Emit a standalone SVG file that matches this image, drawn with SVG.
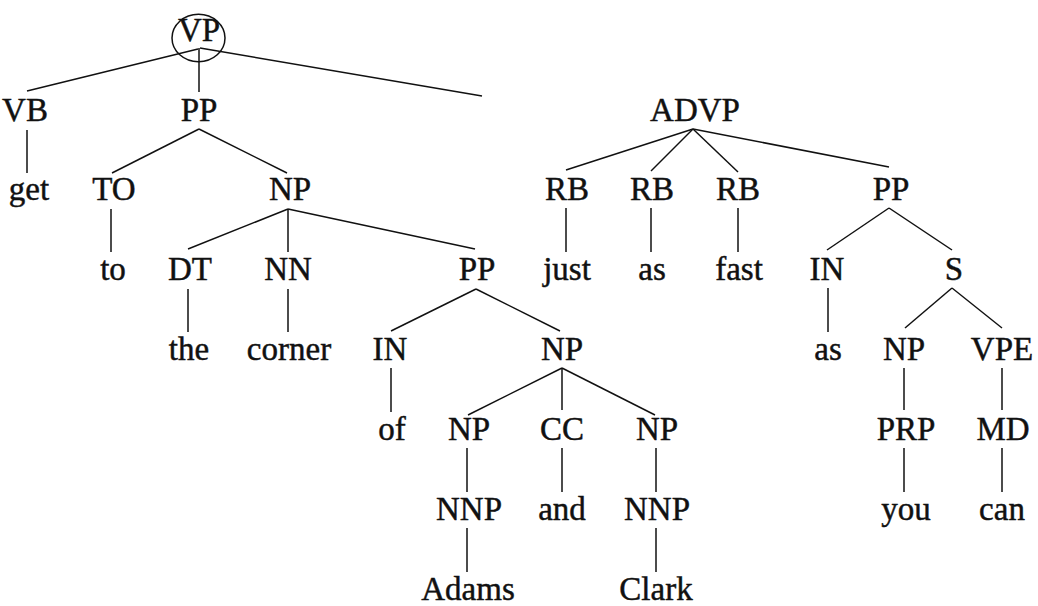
<svg xmlns="http://www.w3.org/2000/svg" width="1038" height="606" viewBox="0 0 1038 606">
<style>
text{font-family:"Liberation Serif","Times New Roman",serif;font-size:33px;fill:#111;stroke:#111;stroke-width:0.45;text-anchor:middle}
line{stroke:#111;stroke-width:1.5;fill:none}
.ring{stroke:#111;stroke-width:1.5;fill:none}
</style>
<rect width="1038" height="606" fill="#fff"/>
<g id="connectors">
<line x1="198" y1="49" x2="27" y2="91"/>
<line x1="199" y1="48" x2="199" y2="92"/>
<line x1="200" y1="48" x2="482" y2="96"/>
<line x1="27" y1="130" x2="27" y2="173"/>
<line x1="199" y1="129" x2="112" y2="173"/>
<line x1="199" y1="129" x2="287" y2="173"/>
<line x1="111" y1="209" x2="111" y2="252"/>
<line x1="288" y1="209" x2="188" y2="249"/>
<line x1="288" y1="209" x2="288" y2="252"/>
<line x1="288" y1="209" x2="475" y2="249"/>
<line x1="188" y1="289" x2="188" y2="332"/>
<line x1="288" y1="289" x2="288" y2="332"/>
<line x1="476" y1="289" x2="391" y2="331"/>
<line x1="476" y1="289" x2="560" y2="331"/>
<line x1="391" y1="368" x2="391" y2="412"/>
<line x1="562" y1="368" x2="468" y2="415"/>
<line x1="562" y1="368" x2="562" y2="410"/>
<line x1="562" y1="368" x2="655" y2="415"/>
<line x1="467" y1="448" x2="467" y2="492"/>
<line x1="562" y1="448" x2="562" y2="492"/>
<line x1="656" y1="448" x2="656" y2="492"/>
<line x1="467" y1="528" x2="467" y2="572"/>
<line x1="656" y1="528" x2="656" y2="572"/>
<line x1="693" y1="129" x2="566" y2="170"/>
<line x1="693" y1="129" x2="651" y2="171"/>
<line x1="693" y1="129" x2="738" y2="172"/>
<line x1="693" y1="129" x2="889" y2="167"/>
<line x1="566" y1="208" x2="566" y2="252"/>
<line x1="651" y1="208" x2="651" y2="252"/>
<line x1="738" y1="208" x2="738" y2="252"/>
<line x1="889" y1="208" x2="827" y2="250"/>
<line x1="889" y1="208" x2="952" y2="250"/>
<line x1="828" y1="288" x2="828" y2="332"/>
<line x1="952" y1="288" x2="905" y2="328"/>
<line x1="952" y1="288" x2="1002" y2="328"/>
<line x1="904" y1="368" x2="904" y2="410"/>
<line x1="1002" y1="368" x2="1002" y2="410"/>
<line x1="904" y1="448" x2="904" y2="492"/>
<line x1="1002" y1="448" x2="1002" y2="492"/>
</g>
<g id="n-vp"><ellipse class="ring" cx="198.5" cy="38" rx="26.5" ry="23.7"/><text x="199" y="41">VP</text></g>
<g id="n-vb"><text x="25" y="121">VB</text></g>
<g id="n-pp1"><text x="199" y="121">PP</text></g>
<g id="n-advp"><text x="695" y="121">ADVP</text></g>
<g id="n-get"><text x="29" y="200">get</text></g>
<g id="n-to1"><text x="114" y="200">TO</text></g>
<g id="n-np1"><text x="290" y="200">NP</text></g>
<g id="n-rb1"><text x="567" y="200">RB</text></g>
<g id="n-rb2"><text x="652" y="200">RB</text></g>
<g id="n-rb3"><text x="738" y="200">RB</text></g>
<g id="n-pp3"><text x="891" y="200">PP</text></g>
<g id="n-to"><text x="113" y="280">to</text></g>
<g id="n-dt"><text x="190" y="280">DT</text></g>
<g id="n-nn"><text x="288" y="280">NN</text></g>
<g id="n-pp2"><text x="477" y="280">PP</text></g>
<g id="n-just"><text x="567" y="280">just</text></g>
<g id="n-as1"><text x="652" y="280">as</text></g>
<g id="n-fast"><text x="739" y="280">fast</text></g>
<g id="n-in2"><text x="827" y="280">IN</text></g>
<g id="n-s"><text x="954" y="280">S</text></g>
<g id="n-the"><text x="189" y="360">the</text></g>
<g id="n-corner"><text x="289" y="360">corner</text></g>
<g id="n-in1"><text x="390" y="360">IN</text></g>
<g id="n-np2"><text x="562" y="360">NP</text></g>
<g id="n-as2"><text x="828" y="360">as</text></g>
<g id="n-np6"><text x="904" y="360">NP</text></g>
<g id="n-vpe"><text x="1002" y="360">VPE</text></g>
<g id="n-of"><text x="392" y="440">of</text></g>
<g id="n-np3"><text x="469" y="440">NP</text></g>
<g id="n-cc"><text x="562" y="440">CC</text></g>
<g id="n-np4"><text x="657" y="440">NP</text></g>
<g id="n-prp"><text x="906" y="440">PRP</text></g>
<g id="n-md"><text x="1003" y="440">MD</text></g>
<g id="n-nnp1"><text x="469" y="520">NNP</text></g>
<g id="n-and"><text x="562" y="520">and</text></g>
<g id="n-nnp2"><text x="657" y="520">NNP</text></g>
<g id="n-you"><text x="906" y="520">you</text></g>
<g id="n-can"><text x="1002" y="520">can</text></g>
<g id="n-adams"><text x="468" y="600">Adams</text></g>
<g id="n-clark"><text x="656" y="600">Clark</text></g>
</svg>
